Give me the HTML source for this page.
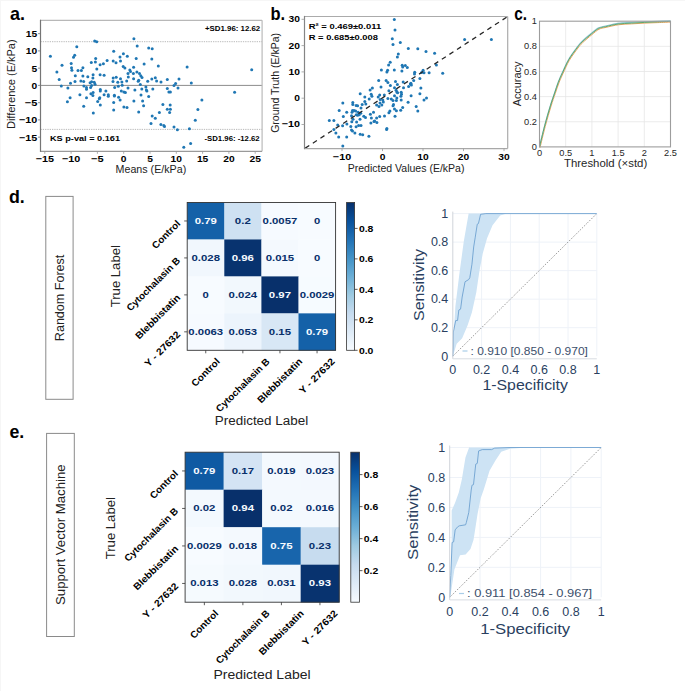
<!DOCTYPE html><html><head><meta charset="utf-8"><style>html,body{margin:0;padding:0;background:#fff;}svg{display:block}</style></head><body>
<svg width="685" height="691" viewBox="0 0 685 691" font-family='"Liberation Sans", sans-serif'>
<rect width="685" height="691" fill="#fff"/>
<line x1="0" y1="0.5" x2="685" y2="0.5" stroke="#f6f6f6" stroke-width="1"/><line x1="0.5" y1="0" x2="0.5" y2="691" stroke="#f6f6f6" stroke-width="1"/>
<line x1="40.5" y1="85.40" x2="262.1" y2="85.40" stroke="#8c8c8c" stroke-width="1"/>
<line x1="40.5" y1="41.70" x2="262.1" y2="41.70" stroke="#a8a8a8" stroke-width="0.8" stroke-dasharray="1.3,1.0"/>
<line x1="40.5" y1="129.40" x2="262.1" y2="129.40" stroke="#a8a8a8" stroke-width="0.8" stroke-dasharray="1.3,1.0"/>
<circle cx="50.4" cy="56.3" r="1.5" fill="#1f77b4"/>
<circle cx="76.8" cy="46.8" r="1.5" fill="#1f77b4"/>
<circle cx="74.7" cy="55.3" r="1.5" fill="#1f77b4"/>
<circle cx="73.5" cy="57.3" r="1.5" fill="#1f77b4"/>
<circle cx="62.0" cy="65.2" r="1.5" fill="#1f77b4"/>
<circle cx="71.2" cy="63.4" r="1.5" fill="#1f77b4"/>
<circle cx="71.5" cy="67.8" r="1.5" fill="#1f77b4"/>
<circle cx="71.9" cy="70.3" r="1.5" fill="#1f77b4"/>
<circle cx="78.0" cy="70.6" r="1.5" fill="#1f77b4"/>
<circle cx="81.4" cy="70.6" r="1.5" fill="#1f77b4"/>
<circle cx="82.9" cy="67.8" r="1.5" fill="#1f77b4"/>
<circle cx="56.9" cy="72.1" r="1.5" fill="#1f77b4"/>
<circle cx="75.3" cy="75.7" r="1.5" fill="#1f77b4"/>
<circle cx="82.9" cy="76.0" r="1.5" fill="#1f77b4"/>
<circle cx="87.8" cy="76.7" r="1.5" fill="#1f77b4"/>
<circle cx="93.1" cy="74.7" r="1.5" fill="#1f77b4"/>
<circle cx="92.9" cy="78.0" r="1.5" fill="#1f77b4"/>
<circle cx="100.1" cy="74.7" r="1.5" fill="#1f77b4"/>
<circle cx="104.1" cy="75.2" r="1.5" fill="#1f77b4"/>
<circle cx="91.3" cy="62.4" r="1.5" fill="#1f77b4"/>
<circle cx="95.4" cy="62.1" r="1.5" fill="#1f77b4"/>
<circle cx="95.7" cy="58.5" r="1.5" fill="#1f77b4"/>
<circle cx="100.1" cy="64.8" r="1.5" fill="#1f77b4"/>
<circle cx="103.4" cy="63.7" r="1.5" fill="#1f77b4"/>
<circle cx="107.1" cy="60.4" r="1.5" fill="#1f77b4"/>
<circle cx="96.8" cy="69.0" r="1.5" fill="#1f77b4"/>
<circle cx="94.7" cy="40.9" r="1.5" fill="#1f77b4"/>
<circle cx="96.7" cy="41.7" r="1.5" fill="#1f77b4"/>
<circle cx="59.2" cy="79.6" r="1.5" fill="#1f77b4"/>
<circle cx="70.5" cy="83.2" r="1.5" fill="#1f77b4"/>
<circle cx="75.0" cy="81.6" r="1.5" fill="#1f77b4"/>
<circle cx="80.9" cy="81.1" r="1.5" fill="#1f77b4"/>
<circle cx="83.7" cy="81.6" r="1.5" fill="#1f77b4"/>
<circle cx="90.1" cy="82.8" r="1.5" fill="#1f77b4"/>
<circle cx="91.6" cy="81.8" r="1.5" fill="#1f77b4"/>
<circle cx="94.2" cy="82.3" r="1.5" fill="#1f77b4"/>
<circle cx="95.0" cy="84.2" r="1.5" fill="#1f77b4"/>
<circle cx="91.6" cy="85.4" r="1.5" fill="#1f77b4"/>
<circle cx="90.6" cy="87.4" r="1.5" fill="#1f77b4"/>
<circle cx="86.5" cy="87.4" r="1.5" fill="#1f77b4"/>
<circle cx="83.9" cy="85.9" r="1.5" fill="#1f77b4"/>
<circle cx="61.3" cy="85.9" r="1.5" fill="#1f77b4"/>
<circle cx="67.9" cy="88.0" r="1.5" fill="#1f77b4"/>
<circle cx="100.3" cy="89.5" r="1.5" fill="#1f77b4"/>
<circle cx="133.9" cy="38.7" r="1.5" fill="#1f77b4"/>
<circle cx="137.2" cy="46.1" r="1.5" fill="#1f77b4"/>
<circle cx="148.7" cy="48.1" r="1.5" fill="#1f77b4"/>
<circle cx="152.2" cy="48.8" r="1.5" fill="#1f77b4"/>
<circle cx="113.7" cy="51.2" r="1.5" fill="#1f77b4"/>
<circle cx="123.4" cy="53.7" r="1.5" fill="#1f77b4"/>
<circle cx="120.0" cy="57.0" r="1.5" fill="#1f77b4"/>
<circle cx="127.3" cy="56.3" r="1.5" fill="#1f77b4"/>
<circle cx="136.2" cy="58.5" r="1.5" fill="#1f77b4"/>
<circle cx="151.8" cy="59.1" r="1.5" fill="#1f77b4"/>
<circle cx="113.2" cy="60.9" r="1.5" fill="#1f77b4"/>
<circle cx="116.0" cy="62.7" r="1.5" fill="#1f77b4"/>
<circle cx="120.5" cy="61.1" r="1.5" fill="#1f77b4"/>
<circle cx="144.1" cy="63.9" r="1.5" fill="#1f77b4"/>
<circle cx="158.3" cy="66.0" r="1.5" fill="#1f77b4"/>
<circle cx="123.2" cy="66.5" r="1.5" fill="#1f77b4"/>
<circle cx="124.9" cy="68.0" r="1.5" fill="#1f77b4"/>
<circle cx="133.6" cy="67.2" r="1.5" fill="#1f77b4"/>
<circle cx="129.8" cy="69.9" r="1.5" fill="#1f77b4"/>
<circle cx="130.5" cy="71.6" r="1.5" fill="#1f77b4"/>
<circle cx="136.9" cy="71.9" r="1.5" fill="#1f77b4"/>
<circle cx="139.5" cy="73.6" r="1.5" fill="#1f77b4"/>
<circle cx="128.0" cy="73.6" r="1.5" fill="#1f77b4"/>
<circle cx="133.4" cy="73.6" r="1.5" fill="#1f77b4"/>
<circle cx="140.8" cy="75.7" r="1.5" fill="#1f77b4"/>
<circle cx="142.0" cy="77.5" r="1.5" fill="#1f77b4"/>
<circle cx="128.3" cy="77.0" r="1.5" fill="#1f77b4"/>
<circle cx="113.2" cy="78.0" r="1.5" fill="#1f77b4"/>
<circle cx="116.2" cy="77.2" r="1.5" fill="#1f77b4"/>
<circle cx="120.5" cy="78.8" r="1.5" fill="#1f77b4"/>
<circle cx="133.6" cy="78.8" r="1.5" fill="#1f77b4"/>
<circle cx="138.7" cy="80.3" r="1.5" fill="#1f77b4"/>
<circle cx="138.2" cy="81.3" r="1.5" fill="#1f77b4"/>
<circle cx="126.7" cy="81.0" r="1.5" fill="#1f77b4"/>
<circle cx="113.0" cy="81.6" r="1.5" fill="#1f77b4"/>
<circle cx="117.8" cy="82.3" r="1.5" fill="#1f77b4"/>
<circle cx="121.9" cy="82.0" r="1.5" fill="#1f77b4"/>
<circle cx="122.2" cy="85.2" r="1.5" fill="#1f77b4"/>
<circle cx="140.3" cy="84.6" r="1.5" fill="#1f77b4"/>
<circle cx="147.7" cy="81.3" r="1.5" fill="#1f77b4"/>
<circle cx="151.8" cy="79.0" r="1.5" fill="#1f77b4"/>
<circle cx="155.3" cy="77.7" r="1.5" fill="#1f77b4"/>
<circle cx="156.6" cy="81.1" r="1.5" fill="#1f77b4"/>
<circle cx="161.0" cy="82.0" r="1.5" fill="#1f77b4"/>
<circle cx="167.3" cy="79.6" r="1.5" fill="#1f77b4"/>
<circle cx="114.7" cy="87.4" r="1.5" fill="#1f77b4"/>
<circle cx="118.3" cy="86.2" r="1.5" fill="#1f77b4"/>
<circle cx="128.0" cy="88.0" r="1.5" fill="#1f77b4"/>
<circle cx="145.9" cy="86.9" r="1.5" fill="#1f77b4"/>
<circle cx="141.8" cy="89.0" r="1.5" fill="#1f77b4"/>
<circle cx="152.8" cy="89.0" r="1.5" fill="#1f77b4"/>
<circle cx="167.3" cy="88.5" r="1.5" fill="#1f77b4"/>
<circle cx="174.0" cy="85.4" r="1.5" fill="#1f77b4"/>
<circle cx="187.1" cy="67.0" r="1.5" fill="#1f77b4"/>
<circle cx="179.0" cy="79.1" r="1.5" fill="#1f77b4"/>
<circle cx="175.6" cy="83.6" r="1.5" fill="#1f77b4"/>
<circle cx="191.3" cy="83.1" r="1.5" fill="#1f77b4"/>
<circle cx="178.0" cy="88.0" r="1.5" fill="#1f77b4"/>
<circle cx="251.7" cy="69.8" r="1.5" fill="#1f77b4"/>
<circle cx="86.5" cy="89.3" r="1.5" fill="#1f77b4"/>
<circle cx="100.3" cy="91.1" r="1.5" fill="#1f77b4"/>
<circle cx="105.9" cy="90.9" r="1.5" fill="#1f77b4"/>
<circle cx="108.3" cy="94.7" r="1.5" fill="#1f77b4"/>
<circle cx="108.3" cy="96.2" r="1.5" fill="#1f77b4"/>
<circle cx="79.9" cy="94.7" r="1.5" fill="#1f77b4"/>
<circle cx="70.1" cy="97.8" r="1.5" fill="#1f77b4"/>
<circle cx="67.4" cy="101.7" r="1.5" fill="#1f77b4"/>
<circle cx="86.5" cy="97.8" r="1.5" fill="#1f77b4"/>
<circle cx="90.9" cy="93.7" r="1.5" fill="#1f77b4"/>
<circle cx="93.1" cy="92.4" r="1.5" fill="#1f77b4"/>
<circle cx="92.9" cy="95.4" r="1.5" fill="#1f77b4"/>
<circle cx="104.1" cy="94.7" r="1.5" fill="#1f77b4"/>
<circle cx="99.8" cy="97.8" r="1.5" fill="#1f77b4"/>
<circle cx="99.3" cy="98.8" r="1.5" fill="#1f77b4"/>
<circle cx="97.7" cy="101.6" r="1.5" fill="#1f77b4"/>
<circle cx="100.3" cy="104.9" r="1.5" fill="#1f77b4"/>
<circle cx="83.7" cy="106.3" r="1.5" fill="#1f77b4"/>
<circle cx="93.3" cy="113.1" r="1.5" fill="#1f77b4"/>
<circle cx="114.4" cy="95.2" r="1.5" fill="#1f77b4"/>
<circle cx="114.4" cy="96.0" r="1.5" fill="#1f77b4"/>
<circle cx="121.3" cy="90.9" r="1.5" fill="#1f77b4"/>
<circle cx="123.9" cy="91.9" r="1.5" fill="#1f77b4"/>
<circle cx="125.4" cy="92.4" r="1.5" fill="#1f77b4"/>
<circle cx="134.9" cy="89.9" r="1.5" fill="#1f77b4"/>
<circle cx="146.4" cy="89.9" r="1.5" fill="#1f77b4"/>
<circle cx="146.9" cy="90.9" r="1.5" fill="#1f77b4"/>
<circle cx="168.9" cy="91.9" r="1.5" fill="#1f77b4"/>
<circle cx="170.4" cy="91.9" r="1.5" fill="#1f77b4"/>
<circle cx="118.6" cy="97.3" r="1.5" fill="#1f77b4"/>
<circle cx="120.1" cy="100.1" r="1.5" fill="#1f77b4"/>
<circle cx="113.7" cy="102.4" r="1.5" fill="#1f77b4"/>
<circle cx="113.7" cy="110.0" r="1.5" fill="#1f77b4"/>
<circle cx="123.9" cy="107.0" r="1.5" fill="#1f77b4"/>
<circle cx="127.0" cy="107.5" r="1.5" fill="#1f77b4"/>
<circle cx="133.9" cy="101.1" r="1.5" fill="#1f77b4"/>
<circle cx="141.0" cy="95.0" r="1.5" fill="#1f77b4"/>
<circle cx="142.6" cy="101.1" r="1.5" fill="#1f77b4"/>
<circle cx="143.6" cy="105.7" r="1.5" fill="#1f77b4"/>
<circle cx="148.7" cy="96.4" r="1.5" fill="#1f77b4"/>
<circle cx="138.7" cy="112.1" r="1.5" fill="#1f77b4"/>
<circle cx="162.9" cy="104.4" r="1.5" fill="#1f77b4"/>
<circle cx="170.2" cy="104.9" r="1.5" fill="#1f77b4"/>
<circle cx="167.3" cy="109.2" r="1.5" fill="#1f77b4"/>
<circle cx="170.4" cy="109.2" r="1.5" fill="#1f77b4"/>
<circle cx="169.6" cy="112.6" r="1.5" fill="#1f77b4"/>
<circle cx="159.4" cy="112.4" r="1.5" fill="#1f77b4"/>
<circle cx="152.2" cy="116.0" r="1.5" fill="#1f77b4"/>
<circle cx="155.3" cy="118.2" r="1.5" fill="#1f77b4"/>
<circle cx="151.0" cy="123.6" r="1.5" fill="#1f77b4"/>
<circle cx="160.9" cy="124.5" r="1.5" fill="#1f77b4"/>
<circle cx="163.8" cy="125.4" r="1.5" fill="#1f77b4"/>
<circle cx="164.5" cy="126.4" r="1.5" fill="#1f77b4"/>
<circle cx="174.0" cy="126.9" r="1.5" fill="#1f77b4"/>
<circle cx="234.6" cy="92.2" r="1.5" fill="#1f77b4"/>
<circle cx="201.9" cy="100.1" r="1.5" fill="#1f77b4"/>
<circle cx="197.9" cy="109.5" r="1.5" fill="#1f77b4"/>
<circle cx="195.3" cy="120.3" r="1.5" fill="#1f77b4"/>
<circle cx="177.4" cy="129.8" r="1.5" fill="#1f77b4"/>
<circle cx="189.4" cy="128.7" r="1.5" fill="#1f77b4"/>
<circle cx="190.6" cy="143.6" r="1.5" fill="#1f77b4"/>
<circle cx="183.8" cy="147.3" r="1.5" fill="#1f77b4"/>
<line x1="40.50" y1="20.30" x2="262.10" y2="20.30" stroke="#b8b8b8" stroke-width="1.2"/>
<line x1="262.10" y1="20.30" x2="262.10" y2="151.30" stroke="#bababa" stroke-width="1.2"/>
<line x1="40.50" y1="151.30" x2="262.10" y2="151.30" stroke="#9a9a9a" stroke-width="1.2"/>
<line x1="40.50" y1="19.70" x2="40.50" y2="151.90" stroke="#757575" stroke-width="1.2"/>
<line x1="38.0" y1="137.15" x2="40.5" y2="137.15" stroke="#777" stroke-width="0.8"/>
<text x="37.30" y="140.55" font-size="9.18" font-weight="bold" text-anchor="end" fill="#000" textLength="18.28" lengthAdjust="spacingAndGlyphs">−15</text>
<line x1="38.0" y1="119.90" x2="40.5" y2="119.90" stroke="#777" stroke-width="0.8"/>
<text x="37.30" y="123.30" font-size="9.18" font-weight="bold" text-anchor="end" fill="#000" textLength="18.28" lengthAdjust="spacingAndGlyphs">−10</text>
<line x1="38.0" y1="102.65" x2="40.5" y2="102.65" stroke="#777" stroke-width="0.8"/>
<text x="37.30" y="106.05" font-size="9.18" font-weight="bold" text-anchor="end" fill="#000" textLength="12.58" lengthAdjust="spacingAndGlyphs">−5</text>
<line x1="38.0" y1="85.40" x2="40.5" y2="85.40" stroke="#777" stroke-width="0.8"/>
<text x="37.30" y="88.80" font-size="9.18" font-weight="bold" text-anchor="end" fill="#000" textLength="5.71" lengthAdjust="spacingAndGlyphs">0</text>
<line x1="38.0" y1="68.15" x2="40.5" y2="68.15" stroke="#777" stroke-width="0.8"/>
<text x="37.30" y="71.55" font-size="9.18" font-weight="bold" text-anchor="end" fill="#000" textLength="5.71" lengthAdjust="spacingAndGlyphs">5</text>
<line x1="38.0" y1="50.90" x2="40.5" y2="50.90" stroke="#777" stroke-width="0.8"/>
<text x="37.30" y="54.30" font-size="9.18" font-weight="bold" text-anchor="end" fill="#000" textLength="11.41" lengthAdjust="spacingAndGlyphs">10</text>
<line x1="38.0" y1="33.65" x2="40.5" y2="33.65" stroke="#777" stroke-width="0.8"/>
<text x="37.30" y="37.05" font-size="9.18" font-weight="bold" text-anchor="end" fill="#000" textLength="11.41" lengthAdjust="spacingAndGlyphs">15</text>
<line x1="44.80" y1="151.3" x2="44.80" y2="153.8" stroke="#999" stroke-width="0.8"/>
<text x="44.80" y="161.60" font-size="9.18" font-weight="bold" text-anchor="middle" fill="#000" textLength="18.28" lengthAdjust="spacingAndGlyphs">−15</text>
<line x1="71.10" y1="151.3" x2="71.10" y2="153.8" stroke="#999" stroke-width="0.8"/>
<text x="71.10" y="161.60" font-size="9.18" font-weight="bold" text-anchor="middle" fill="#000" textLength="18.28" lengthAdjust="spacingAndGlyphs">−10</text>
<line x1="97.40" y1="151.3" x2="97.40" y2="153.8" stroke="#999" stroke-width="0.8"/>
<text x="97.40" y="161.60" font-size="9.18" font-weight="bold" text-anchor="middle" fill="#000" textLength="12.58" lengthAdjust="spacingAndGlyphs">−5</text>
<line x1="123.70" y1="151.3" x2="123.70" y2="153.8" stroke="#999" stroke-width="0.8"/>
<text x="123.70" y="161.60" font-size="9.18" font-weight="bold" text-anchor="middle" fill="#000" textLength="5.71" lengthAdjust="spacingAndGlyphs">0</text>
<line x1="150.00" y1="151.3" x2="150.00" y2="153.8" stroke="#999" stroke-width="0.8"/>
<text x="150.00" y="161.60" font-size="9.18" font-weight="bold" text-anchor="middle" fill="#000" textLength="5.71" lengthAdjust="spacingAndGlyphs">5</text>
<line x1="176.30" y1="151.3" x2="176.30" y2="153.8" stroke="#999" stroke-width="0.8"/>
<text x="176.30" y="161.60" font-size="9.18" font-weight="bold" text-anchor="middle" fill="#000" textLength="11.41" lengthAdjust="spacingAndGlyphs">10</text>
<line x1="202.60" y1="151.3" x2="202.60" y2="153.8" stroke="#999" stroke-width="0.8"/>
<text x="202.60" y="161.60" font-size="9.18" font-weight="bold" text-anchor="middle" fill="#000" textLength="11.41" lengthAdjust="spacingAndGlyphs">15</text>
<line x1="228.90" y1="151.3" x2="228.90" y2="153.8" stroke="#999" stroke-width="0.8"/>
<text x="228.90" y="161.60" font-size="9.18" font-weight="bold" text-anchor="middle" fill="#000" textLength="11.41" lengthAdjust="spacingAndGlyphs">20</text>
<line x1="255.20" y1="151.3" x2="255.20" y2="153.8" stroke="#999" stroke-width="0.8"/>
<text x="255.20" y="161.60" font-size="9.18" font-weight="bold" text-anchor="middle" fill="#000" textLength="11.41" lengthAdjust="spacingAndGlyphs">25</text>
<text x="150.90" y="172.60" font-size="10.50" font-weight="normal" text-anchor="middle" fill="#222" textLength="70.63" lengthAdjust="spacingAndGlyphs">Means (E/kPa)</text>
<text x="0.00" y="0.00" transform="translate(14.60,84.20) rotate(-90)" font-size="10.50" font-weight="normal" text-anchor="middle" fill="#222" textLength="89.72" lengthAdjust="spacingAndGlyphs">Difference (E/kPa)</text>
<text x="205.00" y="30.60" font-size="6.62" font-weight="bold" text-anchor="start" fill="#000" textLength="55.23" lengthAdjust="spacingAndGlyphs">+SD1.96: 12.62</text>
<text x="204.50" y="141.10" font-size="6.62" font-weight="bold" text-anchor="start" fill="#000" textLength="55.18" lengthAdjust="spacingAndGlyphs">-SD1.96: -12.62</text>
<text x="50.00" y="141.10" font-size="7.88" font-weight="bold" text-anchor="start" fill="#000" textLength="70.06" lengthAdjust="spacingAndGlyphs">KS p-val = 0.161</text>
<text x="10.00" y="20.00" font-size="19.00" font-weight="bold" text-anchor="start" fill="#000" textLength="15.00" lengthAdjust="spacingAndGlyphs">a.</text>
<circle cx="394.3" cy="19.6" r="1.5" fill="#1f77b4"/>
<circle cx="395.0" cy="30.1" r="1.5" fill="#1f77b4"/>
<circle cx="392.3" cy="38.8" r="1.5" fill="#1f77b4"/>
<circle cx="393.0" cy="44.4" r="1.5" fill="#1f77b4"/>
<circle cx="400.3" cy="42.4" r="1.5" fill="#1f77b4"/>
<circle cx="408.3" cy="48.5" r="1.5" fill="#1f77b4"/>
<circle cx="417.8" cy="48.7" r="1.5" fill="#1f77b4"/>
<circle cx="426.0" cy="51.6" r="1.5" fill="#1f77b4"/>
<circle cx="434.6" cy="53.3" r="1.5" fill="#1f77b4"/>
<circle cx="398.3" cy="54.1" r="1.5" fill="#1f77b4"/>
<circle cx="397.4" cy="56.9" r="1.5" fill="#1f77b4"/>
<circle cx="390.2" cy="62.2" r="1.5" fill="#1f77b4"/>
<circle cx="388.6" cy="64.9" r="1.5" fill="#1f77b4"/>
<circle cx="381.4" cy="70.0" r="1.5" fill="#1f77b4"/>
<circle cx="387.6" cy="70.2" r="1.5" fill="#1f77b4"/>
<circle cx="386.9" cy="72.0" r="1.5" fill="#1f77b4"/>
<circle cx="394.3" cy="70.0" r="1.5" fill="#1f77b4"/>
<circle cx="402.2" cy="65.3" r="1.5" fill="#1f77b4"/>
<circle cx="402.7" cy="67.1" r="1.5" fill="#1f77b4"/>
<circle cx="405.3" cy="65.6" r="1.5" fill="#1f77b4"/>
<circle cx="407.3" cy="67.6" r="1.5" fill="#1f77b4"/>
<circle cx="401.9" cy="71.0" r="1.5" fill="#1f77b4"/>
<circle cx="414.7" cy="72.2" r="1.5" fill="#1f77b4"/>
<circle cx="414.5" cy="74.1" r="1.5" fill="#1f77b4"/>
<circle cx="423.1" cy="70.2" r="1.5" fill="#1f77b4"/>
<circle cx="421.6" cy="72.4" r="1.5" fill="#1f77b4"/>
<circle cx="424.0" cy="72.7" r="1.5" fill="#1f77b4"/>
<circle cx="429.1" cy="72.7" r="1.5" fill="#1f77b4"/>
<circle cx="436.4" cy="65.1" r="1.5" fill="#1f77b4"/>
<circle cx="419.9" cy="78.6" r="1.5" fill="#1f77b4"/>
<circle cx="413.7" cy="80.6" r="1.5" fill="#1f77b4"/>
<circle cx="410.9" cy="83.3" r="1.5" fill="#1f77b4"/>
<circle cx="403.2" cy="81.9" r="1.5" fill="#1f77b4"/>
<circle cx="395.5" cy="81.4" r="1.5" fill="#1f77b4"/>
<circle cx="397.4" cy="84.5" r="1.5" fill="#1f77b4"/>
<circle cx="386.1" cy="80.4" r="1.5" fill="#1f77b4"/>
<circle cx="387.9" cy="82.6" r="1.5" fill="#1f77b4"/>
<circle cx="378.7" cy="80.4" r="1.5" fill="#1f77b4"/>
<circle cx="464.6" cy="39.5" r="1.5" fill="#1f77b4"/>
<circle cx="491.4" cy="39.5" r="1.5" fill="#1f77b4"/>
<circle cx="442.7" cy="73.2" r="1.5" fill="#1f77b4"/>
<circle cx="372.4" cy="88.0" r="1.5" fill="#1f77b4"/>
<circle cx="370.1" cy="89.9" r="1.5" fill="#1f77b4"/>
<circle cx="360.2" cy="93.8" r="1.5" fill="#1f77b4"/>
<circle cx="364.8" cy="96.9" r="1.5" fill="#1f77b4"/>
<circle cx="371.2" cy="94.3" r="1.5" fill="#1f77b4"/>
<circle cx="371.9" cy="96.3" r="1.5" fill="#1f77b4"/>
<circle cx="369.2" cy="98.9" r="1.5" fill="#1f77b4"/>
<circle cx="342.8" cy="103.0" r="1.5" fill="#1f77b4"/>
<circle cx="352.8" cy="102.5" r="1.5" fill="#1f77b4"/>
<circle cx="352.8" cy="104.5" r="1.5" fill="#1f77b4"/>
<circle cx="356.1" cy="105.5" r="1.5" fill="#1f77b4"/>
<circle cx="357.6" cy="105.8" r="1.5" fill="#1f77b4"/>
<circle cx="364.8" cy="101.5" r="1.5" fill="#1f77b4"/>
<circle cx="365.8" cy="104.0" r="1.5" fill="#1f77b4"/>
<circle cx="362.2" cy="104.5" r="1.5" fill="#1f77b4"/>
<circle cx="361.0" cy="108.1" r="1.5" fill="#1f77b4"/>
<circle cx="339.2" cy="110.5" r="1.5" fill="#1f77b4"/>
<circle cx="346.7" cy="112.2" r="1.5" fill="#1f77b4"/>
<circle cx="352.5" cy="110.6" r="1.5" fill="#1f77b4"/>
<circle cx="354.0" cy="110.5" r="1.5" fill="#1f77b4"/>
<circle cx="355.6" cy="110.9" r="1.5" fill="#1f77b4"/>
<circle cx="352.0" cy="112.2" r="1.5" fill="#1f77b4"/>
<circle cx="358.1" cy="112.2" r="1.5" fill="#1f77b4"/>
<circle cx="360.7" cy="113.2" r="1.5" fill="#1f77b4"/>
<circle cx="356.3" cy="114.7" r="1.5" fill="#1f77b4"/>
<circle cx="357.6" cy="115.3" r="1.5" fill="#1f77b4"/>
<circle cx="359.2" cy="114.7" r="1.5" fill="#1f77b4"/>
<circle cx="343.3" cy="116.6" r="1.5" fill="#1f77b4"/>
<circle cx="351.5" cy="115.8" r="1.5" fill="#1f77b4"/>
<circle cx="363.8" cy="116.3" r="1.5" fill="#1f77b4"/>
<circle cx="365.5" cy="117.6" r="1.5" fill="#1f77b4"/>
<circle cx="370.4" cy="114.2" r="1.5" fill="#1f77b4"/>
<circle cx="373.5" cy="112.2" r="1.5" fill="#1f77b4"/>
<circle cx="371.4" cy="118.0" r="1.5" fill="#1f77b4"/>
<circle cx="374.0" cy="121.4" r="1.5" fill="#1f77b4"/>
<circle cx="329.3" cy="120.4" r="1.5" fill="#1f77b4"/>
<circle cx="333.9" cy="120.6" r="1.5" fill="#1f77b4"/>
<circle cx="353.0" cy="119.3" r="1.5" fill="#1f77b4"/>
<circle cx="360.0" cy="119.3" r="1.5" fill="#1f77b4"/>
<circle cx="351.8" cy="121.7" r="1.5" fill="#1f77b4"/>
<circle cx="356.6" cy="122.1" r="1.5" fill="#1f77b4"/>
<circle cx="337.7" cy="125.0" r="1.5" fill="#1f77b4"/>
<circle cx="342.6" cy="125.8" r="1.5" fill="#1f77b4"/>
<circle cx="346.9" cy="124.1" r="1.5" fill="#1f77b4"/>
<circle cx="350.8" cy="126.5" r="1.5" fill="#1f77b4"/>
<circle cx="356.1" cy="126.8" r="1.5" fill="#1f77b4"/>
<circle cx="358.6" cy="125.5" r="1.5" fill="#1f77b4"/>
<circle cx="361.0" cy="125.5" r="1.5" fill="#1f77b4"/>
<circle cx="370.9" cy="123.1" r="1.5" fill="#1f77b4"/>
<circle cx="333.9" cy="129.6" r="1.5" fill="#1f77b4"/>
<circle cx="351.5" cy="130.1" r="1.5" fill="#1f77b4"/>
<circle cx="352.5" cy="131.1" r="1.5" fill="#1f77b4"/>
<circle cx="354.9" cy="132.9" r="1.5" fill="#1f77b4"/>
<circle cx="335.9" cy="132.9" r="1.5" fill="#1f77b4"/>
<circle cx="360.2" cy="134.2" r="1.5" fill="#1f77b4"/>
<circle cx="362.7" cy="134.7" r="1.5" fill="#1f77b4"/>
<circle cx="368.9" cy="136.2" r="1.5" fill="#1f77b4"/>
<circle cx="338.7" cy="136.9" r="1.5" fill="#1f77b4"/>
<circle cx="346.7" cy="136.9" r="1.5" fill="#1f77b4"/>
<circle cx="342.8" cy="146.1" r="1.5" fill="#1f77b4"/>
<circle cx="381.0" cy="86.9" r="1.5" fill="#1f77b4"/>
<circle cx="390.4" cy="85.6" r="1.5" fill="#1f77b4"/>
<circle cx="394.5" cy="87.7" r="1.5" fill="#1f77b4"/>
<circle cx="396.1" cy="90.2" r="1.5" fill="#1f77b4"/>
<circle cx="396.8" cy="92.1" r="1.5" fill="#1f77b4"/>
<circle cx="397.6" cy="92.8" r="1.5" fill="#1f77b4"/>
<circle cx="388.9" cy="90.7" r="1.5" fill="#1f77b4"/>
<circle cx="403.5" cy="87.7" r="1.5" fill="#1f77b4"/>
<circle cx="408.6" cy="86.6" r="1.5" fill="#1f77b4"/>
<circle cx="410.4" cy="84.1" r="1.5" fill="#1f77b4"/>
<circle cx="411.4" cy="85.1" r="1.5" fill="#1f77b4"/>
<circle cx="420.9" cy="88.0" r="1.5" fill="#1f77b4"/>
<circle cx="419.9" cy="93.8" r="1.5" fill="#1f77b4"/>
<circle cx="411.1" cy="95.8" r="1.5" fill="#1f77b4"/>
<circle cx="401.2" cy="92.3" r="1.5" fill="#1f77b4"/>
<circle cx="401.5" cy="94.3" r="1.5" fill="#1f77b4"/>
<circle cx="400.9" cy="96.3" r="1.5" fill="#1f77b4"/>
<circle cx="379.7" cy="95.1" r="1.5" fill="#1f77b4"/>
<circle cx="378.2" cy="96.9" r="1.5" fill="#1f77b4"/>
<circle cx="384.3" cy="95.1" r="1.5" fill="#1f77b4"/>
<circle cx="394.5" cy="95.8" r="1.5" fill="#1f77b4"/>
<circle cx="387.9" cy="98.4" r="1.5" fill="#1f77b4"/>
<circle cx="391.3" cy="98.9" r="1.5" fill="#1f77b4"/>
<circle cx="393.0" cy="100.4" r="1.5" fill="#1f77b4"/>
<circle cx="396.8" cy="97.9" r="1.5" fill="#1f77b4"/>
<circle cx="396.4" cy="100.4" r="1.5" fill="#1f77b4"/>
<circle cx="401.2" cy="99.9" r="1.5" fill="#1f77b4"/>
<circle cx="408.1" cy="102.2" r="1.5" fill="#1f77b4"/>
<circle cx="426.5" cy="97.9" r="1.5" fill="#1f77b4"/>
<circle cx="424.0" cy="99.9" r="1.5" fill="#1f77b4"/>
<circle cx="380.2" cy="99.4" r="1.5" fill="#1f77b4"/>
<circle cx="382.8" cy="99.9" r="1.5" fill="#1f77b4"/>
<circle cx="383.3" cy="102.0" r="1.5" fill="#1f77b4"/>
<circle cx="380.0" cy="103.0" r="1.5" fill="#1f77b4"/>
<circle cx="376.6" cy="105.0" r="1.5" fill="#1f77b4"/>
<circle cx="379.0" cy="106.4" r="1.5" fill="#1f77b4"/>
<circle cx="381.8" cy="105.0" r="1.5" fill="#1f77b4"/>
<circle cx="393.5" cy="104.5" r="1.5" fill="#1f77b4"/>
<circle cx="393.0" cy="105.8" r="1.5" fill="#1f77b4"/>
<circle cx="416.2" cy="106.4" r="1.5" fill="#1f77b4"/>
<circle cx="417.8" cy="110.9" r="1.5" fill="#1f77b4"/>
<circle cx="402.7" cy="107.4" r="1.5" fill="#1f77b4"/>
<circle cx="400.7" cy="110.3" r="1.5" fill="#1f77b4"/>
<circle cx="394.5" cy="109.1" r="1.5" fill="#1f77b4"/>
<circle cx="396.4" cy="110.7" r="1.5" fill="#1f77b4"/>
<circle cx="389.9" cy="110.9" r="1.5" fill="#1f77b4"/>
<circle cx="388.9" cy="112.7" r="1.5" fill="#1f77b4"/>
<circle cx="384.5" cy="116.0" r="1.5" fill="#1f77b4"/>
<circle cx="379.7" cy="116.6" r="1.5" fill="#1f77b4"/>
<circle cx="376.6" cy="118.0" r="1.5" fill="#1f77b4"/>
<circle cx="395.0" cy="116.3" r="1.5" fill="#1f77b4"/>
<circle cx="374.6" cy="121.1" r="1.5" fill="#1f77b4"/>
<circle cx="376.9" cy="122.4" r="1.5" fill="#1f77b4"/>
<circle cx="386.9" cy="128.5" r="1.5" fill="#1f77b4"/>
<circle cx="386.6" cy="129.6" r="1.5" fill="#1f77b4"/>
<line x1="304.5" y1="148.6" x2="507.7" y2="16.5" stroke="#262626" stroke-width="1.3" stroke-dasharray="4.8,4.25" stroke-dashoffset="8.15"/>
<line x1="304.50" y1="16.50" x2="507.70" y2="16.50" stroke="#ababab" stroke-width="1.2"/>
<line x1="507.70" y1="16.50" x2="507.70" y2="148.60" stroke="#ababab" stroke-width="1.2"/>
<line x1="304.50" y1="148.60" x2="507.70" y2="148.60" stroke="#a8a8a8" stroke-width="1.2"/>
<line x1="304.50" y1="15.90" x2="304.50" y2="149.20" stroke="#858585" stroke-width="1.2"/>
<line x1="301.5" y1="124.50" x2="304.5" y2="124.50" stroke="#999" stroke-width="0.8"/>
<text x="300.00" y="127.40" font-size="9.18" font-weight="bold" text-anchor="end" fill="#000" textLength="18.28" lengthAdjust="spacingAndGlyphs">−10</text>
<line x1="301.5" y1="98.20" x2="304.5" y2="98.20" stroke="#999" stroke-width="0.8"/>
<text x="300.00" y="101.10" font-size="9.18" font-weight="bold" text-anchor="end" fill="#000" textLength="5.71" lengthAdjust="spacingAndGlyphs">0</text>
<line x1="301.5" y1="71.90" x2="304.5" y2="71.90" stroke="#999" stroke-width="0.8"/>
<text x="300.00" y="74.80" font-size="9.18" font-weight="bold" text-anchor="end" fill="#000" textLength="11.41" lengthAdjust="spacingAndGlyphs">10</text>
<line x1="301.5" y1="45.60" x2="304.5" y2="45.60" stroke="#999" stroke-width="0.8"/>
<text x="300.00" y="48.50" font-size="9.18" font-weight="bold" text-anchor="end" fill="#000" textLength="11.41" lengthAdjust="spacingAndGlyphs">20</text>
<line x1="301.5" y1="19.30" x2="304.5" y2="19.30" stroke="#999" stroke-width="0.8"/>
<text x="300.00" y="22.20" font-size="9.18" font-weight="bold" text-anchor="end" fill="#000" textLength="11.41" lengthAdjust="spacingAndGlyphs">30</text>
<line x1="342.00" y1="148.6" x2="342.00" y2="151.1" stroke="#999" stroke-width="0.8"/>
<text x="342.00" y="160.30" font-size="9.18" font-weight="bold" text-anchor="middle" fill="#000" textLength="18.28" lengthAdjust="spacingAndGlyphs">−10</text>
<line x1="382.50" y1="148.6" x2="382.50" y2="151.1" stroke="#999" stroke-width="0.8"/>
<text x="382.50" y="160.30" font-size="9.18" font-weight="bold" text-anchor="middle" fill="#000" textLength="5.71" lengthAdjust="spacingAndGlyphs">0</text>
<line x1="423.00" y1="148.6" x2="423.00" y2="151.1" stroke="#999" stroke-width="0.8"/>
<text x="423.00" y="160.30" font-size="9.18" font-weight="bold" text-anchor="middle" fill="#000" textLength="11.41" lengthAdjust="spacingAndGlyphs">10</text>
<line x1="463.50" y1="148.6" x2="463.50" y2="151.1" stroke="#999" stroke-width="0.8"/>
<text x="463.50" y="160.30" font-size="9.18" font-weight="bold" text-anchor="middle" fill="#000" textLength="11.41" lengthAdjust="spacingAndGlyphs">20</text>
<line x1="504.00" y1="148.6" x2="504.00" y2="151.1" stroke="#999" stroke-width="0.8"/>
<text x="504.00" y="160.30" font-size="9.18" font-weight="bold" text-anchor="middle" fill="#000" textLength="11.41" lengthAdjust="spacingAndGlyphs">30</text>
<text x="406.10" y="171.60" font-size="10.13" font-weight="normal" text-anchor="middle" fill="#222" textLength="116.73" lengthAdjust="spacingAndGlyphs">Predicted Values (E/kPa)</text>
<text x="0.00" y="0.00" transform="translate(278.60,82.90) rotate(-90)" font-size="10.13" font-weight="normal" text-anchor="middle" fill="#222" textLength="99.86" lengthAdjust="spacingAndGlyphs">Ground Truth (E/kPa)</text>
<text x="308.80" y="29.30" font-size="7.67" font-weight="bold" text-anchor="start" fill="#000" textLength="72.32" lengthAdjust="spacingAndGlyphs">R² = 0.469±0.011</text>
<text x="308.80" y="39.50" font-size="7.67" font-weight="bold" text-anchor="start" fill="#000" textLength="69.12" lengthAdjust="spacingAndGlyphs">R = 0.685±0.008</text>
<text x="270.50" y="19.70" font-size="19.00" font-weight="bold" text-anchor="start" fill="#000" textLength="14.60" lengthAdjust="spacingAndGlyphs">b.</text>
<line x1="565.70" y1="21.2" x2="565.70" y2="146.9" stroke="#e6e6e6" stroke-width="0.8"/>
<line x1="591.90" y1="21.2" x2="591.90" y2="146.9" stroke="#e6e6e6" stroke-width="0.8"/>
<line x1="618.10" y1="21.2" x2="618.10" y2="146.9" stroke="#e6e6e6" stroke-width="0.8"/>
<line x1="644.30" y1="21.2" x2="644.30" y2="146.9" stroke="#e6e6e6" stroke-width="0.8"/>
<line x1="539.5" y1="121.76" x2="670.5" y2="121.76" stroke="#e6e6e6" stroke-width="0.8"/>
<line x1="539.5" y1="96.62" x2="670.5" y2="96.62" stroke="#e6e6e6" stroke-width="0.8"/>
<line x1="539.5" y1="71.48" x2="670.5" y2="71.48" stroke="#e6e6e6" stroke-width="0.8"/>
<line x1="539.5" y1="46.34" x2="670.5" y2="46.34" stroke="#e6e6e6" stroke-width="0.8"/>
<path d="M540.00,147.80 C540.87,144.24 543.41,133.34 545.24,126.43 C547.07,119.52 549.34,111.77 551.00,106.32 C552.66,100.87 553.89,97.62 555.20,93.75 C556.51,89.87 557.55,86.46 558.86,83.06 C560.17,79.67 561.31,77.18 563.06,73.39 C564.80,69.59 566.86,64.54 569.34,60.31 C571.83,56.08 575.81,50.91 577.99,47.99 C580.17,45.08 580.13,45.06 582.44,42.84 C584.76,40.62 589.12,36.93 591.88,34.67 C594.64,32.41 596.64,30.48 599.00,29.26 C601.36,28.05 602.76,28.13 606.02,27.38 C609.29,26.63 614.32,25.33 618.60,24.74 C622.88,24.15 627.33,24.13 631.70,23.86 C636.07,23.59 640.43,23.32 644.80,23.11 C649.17,22.90 653.53,22.77 657.90,22.60 C662.27,22.44 668.82,22.18 671.00,22.10" fill="none" stroke="#e9a561" stroke-width="1"/>
<path d="M539.50,146.40 C540.37,142.84 542.91,131.94 544.74,125.03 C546.57,118.12 548.84,110.37 550.50,104.92 C552.16,99.47 553.39,96.22 554.70,92.35 C556.01,88.47 557.05,85.06 558.36,81.66 C559.67,78.27 560.81,75.78 562.56,71.99 C564.30,68.19 566.36,63.14 568.84,58.91 C571.33,54.68 575.31,49.51 577.49,46.59 C579.67,43.68 579.63,43.66 581.94,41.44 C584.26,39.22 588.62,35.53 591.38,33.27 C594.14,31.01 596.14,29.08 598.50,27.86 C600.86,26.65 602.26,26.73 605.52,25.98 C608.79,25.23 613.82,23.93 618.10,23.34 C622.38,22.75 626.83,22.73 631.20,22.46 C635.57,22.19 639.93,21.92 644.30,21.71 C648.67,21.50 653.03,21.37 657.40,21.20 C661.77,21.04 668.32,20.78 670.50,20.70" fill="none" stroke="#8cc3cf" stroke-width="1.1"/>
<path d="M539.50,147.10 C540.37,143.54 542.91,132.64 544.74,125.73 C546.57,118.82 548.84,111.07 550.50,105.62 C552.16,100.17 553.39,96.92 554.70,93.05 C556.01,89.17 557.05,85.76 558.36,82.36 C559.67,78.97 560.81,76.48 562.56,72.69 C564.30,68.89 566.36,63.84 568.84,59.61 C571.33,55.38 575.31,50.21 577.49,47.29 C579.67,44.38 579.63,44.36 581.94,42.14 C584.26,39.92 588.62,36.23 591.38,33.97 C594.14,31.71 596.14,29.78 598.50,28.56 C600.86,27.35 602.26,27.43 605.52,26.68 C608.79,25.93 613.82,24.63 618.10,24.04 C622.38,23.45 626.83,23.43 631.20,23.16 C635.57,22.89 639.93,22.62 644.30,22.41 C648.67,22.20 653.03,22.07 657.40,21.90 C661.77,21.74 668.32,21.48 670.50,21.40" fill="none" stroke="#55a060" stroke-width="0.9"/>
<rect x="539.5" y="21.2" width="131.0" height="125.70" fill="none" stroke="#9d9d9d" stroke-width="1.1"/>
<text x="537.00" y="150.00" font-size="8.51" font-weight="normal" text-anchor="end" fill="#262626" textLength="5.15" lengthAdjust="spacingAndGlyphs">0</text>
<text x="537.00" y="124.86" font-size="8.51" font-weight="normal" text-anchor="end" fill="#262626" textLength="12.88" lengthAdjust="spacingAndGlyphs">0.2</text>
<text x="537.00" y="99.72" font-size="8.51" font-weight="normal" text-anchor="end" fill="#262626" textLength="12.88" lengthAdjust="spacingAndGlyphs">0.4</text>
<text x="537.00" y="74.58" font-size="8.51" font-weight="normal" text-anchor="end" fill="#262626" textLength="12.88" lengthAdjust="spacingAndGlyphs">0.6</text>
<text x="537.00" y="49.44" font-size="8.51" font-weight="normal" text-anchor="end" fill="#262626" textLength="12.88" lengthAdjust="spacingAndGlyphs">0.8</text>
<text x="537.00" y="24.30" font-size="8.51" font-weight="normal" text-anchor="end" fill="#262626" textLength="5.15" lengthAdjust="spacingAndGlyphs">1</text>
<text x="539.50" y="156.20" font-size="8.51" font-weight="normal" text-anchor="middle" fill="#262626" textLength="5.15" lengthAdjust="spacingAndGlyphs">0</text>
<text x="565.70" y="156.20" font-size="8.51" font-weight="normal" text-anchor="middle" fill="#262626" textLength="12.88" lengthAdjust="spacingAndGlyphs">0.5</text>
<text x="591.90" y="156.20" font-size="8.51" font-weight="normal" text-anchor="middle" fill="#262626" textLength="5.15" lengthAdjust="spacingAndGlyphs">1</text>
<text x="618.10" y="156.20" font-size="8.51" font-weight="normal" text-anchor="middle" fill="#262626" textLength="12.88" lengthAdjust="spacingAndGlyphs">1.5</text>
<text x="644.30" y="156.20" font-size="8.51" font-weight="normal" text-anchor="middle" fill="#262626" textLength="5.15" lengthAdjust="spacingAndGlyphs">2</text>
<text x="670.50" y="156.20" font-size="8.51" font-weight="normal" text-anchor="middle" fill="#262626" textLength="12.88" lengthAdjust="spacingAndGlyphs">2.5</text>
<text x="605.60" y="167.30" font-size="10.40" font-weight="normal" text-anchor="middle" fill="#262626" textLength="83.28" lengthAdjust="spacingAndGlyphs">Threshold (×std)</text>
<text x="0.00" y="0.00" transform="translate(521.30,84.00) rotate(-90)" font-size="10.29" font-weight="normal" text-anchor="middle" fill="#262626" textLength="44.74" lengthAdjust="spacingAndGlyphs">Accuracy</text>
<text x="514.20" y="20.10" font-size="19.00" font-weight="bold" text-anchor="start" fill="#000" textLength="12.80" lengthAdjust="spacingAndGlyphs">c.</text>
<text x="9.00" y="203.00" font-size="19.00" font-weight="bold" text-anchor="start" fill="#000" textLength="15.80" lengthAdjust="spacingAndGlyphs">d.</text>
<rect x="45.8" y="196.4" width="27.3" height="202.9" fill="none" stroke="#8a8a8a" stroke-width="1"/>
<text x="0.00" y="0.00" transform="translate(64.40,297.90) rotate(-90)" font-size="13.00" font-weight="normal" text-anchor="middle" fill="#222" textLength="86.50" lengthAdjust="spacingAndGlyphs">Random Forest</text>
<rect x="187.20" y="202.50" width="37.40" height="37.25" fill="#1461a8"/>
<rect x="224.30" y="202.50" width="37.40" height="37.25" fill="#cee1f2"/>
<rect x="261.40" y="202.50" width="37.40" height="37.25" fill="#f6faff"/>
<rect x="298.50" y="202.50" width="37.40" height="37.25" fill="#f7fbff"/>
<rect x="187.20" y="239.45" width="37.40" height="37.25" fill="#f1f7fd"/>
<rect x="224.30" y="239.45" width="37.40" height="37.25" fill="#08336f"/>
<rect x="261.40" y="239.45" width="37.40" height="37.25" fill="#f4f9fe"/>
<rect x="298.50" y="239.45" width="37.40" height="37.25" fill="#f7fbff"/>
<rect x="187.20" y="276.40" width="37.40" height="37.25" fill="#f7fbff"/>
<rect x="224.30" y="276.40" width="37.40" height="37.25" fill="#f2f8fd"/>
<rect x="261.40" y="276.40" width="37.40" height="37.25" fill="#08306b"/>
<rect x="298.50" y="276.40" width="37.40" height="37.25" fill="#f6fbff"/>
<rect x="187.20" y="313.35" width="37.40" height="37.25" fill="#f6faff"/>
<rect x="224.30" y="313.35" width="37.40" height="37.25" fill="#ecf4fc"/>
<rect x="261.40" y="313.35" width="37.40" height="37.25" fill="#d8e7f5"/>
<rect x="298.50" y="313.35" width="37.40" height="37.25" fill="#1461a8"/>
<text x="205.75" y="223.88" font-size="9.90" font-weight="bold" text-anchor="middle" fill="#f7fbff" textLength="22.21" lengthAdjust="spacingAndGlyphs">0.79</text>
<text x="242.85" y="223.88" font-size="9.90" font-weight="bold" text-anchor="middle" fill="#08306b" textLength="15.94" lengthAdjust="spacingAndGlyphs">0.2</text>
<text x="279.95" y="223.88" font-size="9.90" font-weight="bold" text-anchor="middle" fill="#08306b" textLength="34.73" lengthAdjust="spacingAndGlyphs">0.0057</text>
<text x="317.05" y="223.88" font-size="9.90" font-weight="bold" text-anchor="middle" fill="#08306b" textLength="6.26" lengthAdjust="spacingAndGlyphs">0</text>
<text x="205.75" y="260.82" font-size="9.90" font-weight="bold" text-anchor="middle" fill="#08306b" textLength="28.47" lengthAdjust="spacingAndGlyphs">0.028</text>
<text x="242.85" y="260.82" font-size="9.90" font-weight="bold" text-anchor="middle" fill="#f7fbff" textLength="22.21" lengthAdjust="spacingAndGlyphs">0.96</text>
<text x="279.95" y="260.82" font-size="9.90" font-weight="bold" text-anchor="middle" fill="#08306b" textLength="28.47" lengthAdjust="spacingAndGlyphs">0.015</text>
<text x="317.05" y="260.82" font-size="9.90" font-weight="bold" text-anchor="middle" fill="#08306b" textLength="6.26" lengthAdjust="spacingAndGlyphs">0</text>
<text x="205.75" y="297.77" font-size="9.90" font-weight="bold" text-anchor="middle" fill="#08306b" textLength="6.26" lengthAdjust="spacingAndGlyphs">0</text>
<text x="242.85" y="297.77" font-size="9.90" font-weight="bold" text-anchor="middle" fill="#08306b" textLength="28.47" lengthAdjust="spacingAndGlyphs">0.024</text>
<text x="279.95" y="297.77" font-size="9.90" font-weight="bold" text-anchor="middle" fill="#f7fbff" textLength="22.21" lengthAdjust="spacingAndGlyphs">0.97</text>
<text x="317.05" y="297.77" font-size="9.90" font-weight="bold" text-anchor="middle" fill="#08306b" textLength="34.73" lengthAdjust="spacingAndGlyphs">0.0029</text>
<text x="205.75" y="334.73" font-size="9.90" font-weight="bold" text-anchor="middle" fill="#08306b" textLength="34.73" lengthAdjust="spacingAndGlyphs">0.0063</text>
<text x="242.85" y="334.73" font-size="9.90" font-weight="bold" text-anchor="middle" fill="#08306b" textLength="28.47" lengthAdjust="spacingAndGlyphs">0.053</text>
<text x="279.95" y="334.73" font-size="9.90" font-weight="bold" text-anchor="middle" fill="#08306b" textLength="22.21" lengthAdjust="spacingAndGlyphs">0.15</text>
<text x="317.05" y="334.73" font-size="9.90" font-weight="bold" text-anchor="middle" fill="#f7fbff" textLength="22.21" lengthAdjust="spacingAndGlyphs">0.79</text>
<rect x="187.2" y="202.5" width="148.40" height="147.80" fill="none" stroke="#333" stroke-width="0.9"/>
<line x1="184.2" y1="220.97" x2="187.2" y2="220.97" stroke="#333" stroke-width="0.8"/>
<line x1="205.75" y1="350.3" x2="205.75" y2="353.3" stroke="#333" stroke-width="0.8"/>
<line x1="184.2" y1="257.93" x2="187.2" y2="257.93" stroke="#333" stroke-width="0.8"/>
<line x1="242.85" y1="350.3" x2="242.85" y2="353.3" stroke="#333" stroke-width="0.8"/>
<line x1="184.2" y1="294.88" x2="187.2" y2="294.88" stroke="#333" stroke-width="0.8"/>
<line x1="279.95" y1="350.3" x2="279.95" y2="353.3" stroke="#333" stroke-width="0.8"/>
<line x1="184.2" y1="331.83" x2="187.2" y2="331.83" stroke="#333" stroke-width="0.8"/>
<line x1="317.05" y1="350.3" x2="317.05" y2="353.3" stroke="#333" stroke-width="0.8"/>
<defs><linearGradient id="g202" x1="0" y1="1" x2="0" y2="0"><stop offset="0.000" stop-color="#f7fbff"/><stop offset="0.125" stop-color="#deebf7"/><stop offset="0.250" stop-color="#c6dbef"/><stop offset="0.375" stop-color="#9ecae1"/><stop offset="0.500" stop-color="#6baed6"/><stop offset="0.625" stop-color="#4292c6"/><stop offset="0.750" stop-color="#2171b5"/><stop offset="0.875" stop-color="#08519c"/><stop offset="1.000" stop-color="#08306b"/></linearGradient></defs>
<rect x="346.6" y="202.5" width="8.00" height="147.80" fill="url(#g202)" stroke="#333" stroke-width="0.8"/>
<line x1="354.6" y1="350.30" x2="357.6" y2="350.30" stroke="#333" stroke-width="0.8"/>
<text x="358.90" y="353.70" font-size="9.18" font-weight="bold" text-anchor="start" fill="#000" textLength="14.53" lengthAdjust="spacingAndGlyphs">0.0</text>
<line x1="354.6" y1="319.83" x2="357.6" y2="319.83" stroke="#333" stroke-width="0.8"/>
<text x="358.90" y="323.23" font-size="9.18" font-weight="bold" text-anchor="start" fill="#000" textLength="14.53" lengthAdjust="spacingAndGlyphs">0.2</text>
<line x1="354.6" y1="289.35" x2="357.6" y2="289.35" stroke="#333" stroke-width="0.8"/>
<text x="358.90" y="292.75" font-size="9.18" font-weight="bold" text-anchor="start" fill="#000" textLength="14.53" lengthAdjust="spacingAndGlyphs">0.4</text>
<line x1="354.6" y1="258.88" x2="357.6" y2="258.88" stroke="#333" stroke-width="0.8"/>
<text x="358.90" y="262.28" font-size="9.18" font-weight="bold" text-anchor="start" fill="#000" textLength="14.53" lengthAdjust="spacingAndGlyphs">0.6</text>
<line x1="354.6" y1="228.40" x2="357.6" y2="228.40" stroke="#333" stroke-width="0.8"/>
<text x="358.90" y="231.80" font-size="9.18" font-weight="bold" text-anchor="start" fill="#000" textLength="14.53" lengthAdjust="spacingAndGlyphs">0.8</text>
<g transform="translate(178.80,222.17) rotate(-45)">
<text x="0.00" y="3.00" font-size="9.63" font-weight="bold" text-anchor="end" fill="#000" textLength="35.55" lengthAdjust="spacingAndGlyphs">Control</text>
</g>
<g transform="translate(178.80,259.12) rotate(-45)">
<text x="0.00" y="3.00" font-size="9.63" font-weight="bold" text-anchor="end" fill="#000" textLength="71.45" lengthAdjust="spacingAndGlyphs">Cytochalasin B</text>
</g>
<g transform="translate(178.80,296.07) rotate(-45)">
<text x="0.00" y="3.00" font-size="9.63" font-weight="bold" text-anchor="end" fill="#000" textLength="58.81" lengthAdjust="spacingAndGlyphs">Blebbistatin</text>
</g>
<g transform="translate(178.80,333.03) rotate(-45)">
<text x="0.00" y="3.00" font-size="9.63" font-weight="bold" text-anchor="end" fill="#000" textLength="45.70" lengthAdjust="spacingAndGlyphs">Y - 27632</text>
</g>
<g transform="translate(205.75,372.60) rotate(-45)">
<text x="0.00" y="3.00" font-size="9.63" font-weight="bold" text-anchor="middle" fill="#000" textLength="35.55" lengthAdjust="spacingAndGlyphs">Control</text>
</g>
<g transform="translate(242.85,385.29) rotate(-45)">
<text x="0.00" y="3.00" font-size="9.63" font-weight="bold" text-anchor="middle" fill="#000" textLength="71.45" lengthAdjust="spacingAndGlyphs">Cytochalasin B</text>
</g>
<g transform="translate(279.95,380.83) rotate(-45)">
<text x="0.00" y="3.00" font-size="9.63" font-weight="bold" text-anchor="middle" fill="#000" textLength="58.81" lengthAdjust="spacingAndGlyphs">Blebbistatin</text>
</g>
<g transform="translate(317.05,376.19) rotate(-45)">
<text x="0.00" y="3.00" font-size="9.63" font-weight="bold" text-anchor="middle" fill="#000" textLength="45.70" lengthAdjust="spacingAndGlyphs">Y - 27632</text>
</g>
<text x="0.00" y="0.00" transform="translate(119.60,276.20) rotate(-90)" font-size="12.71" font-weight="normal" text-anchor="middle" fill="#222" textLength="62.19" lengthAdjust="spacingAndGlyphs">True Label</text>
<text x="261.50" y="425.00" font-size="12.71" font-weight="normal" text-anchor="middle" fill="#222" textLength="93.29" lengthAdjust="spacingAndGlyphs">Predicted Label</text>
<text x="9.40" y="438.20" font-size="19.00" font-weight="bold" text-anchor="start" fill="#000" textLength="14.80" lengthAdjust="spacingAndGlyphs">e.</text>
<rect x="46.6" y="433.4" width="27.7" height="203.1" fill="none" stroke="#8a8a8a" stroke-width="1"/>
<text x="0.00" y="0.00" transform="translate(65.20,534.70) rotate(-90)" font-size="13.00" font-weight="normal" text-anchor="middle" fill="#222" textLength="140.50" lengthAdjust="spacingAndGlyphs">Support Vector Machine</text>
<rect x="185.10" y="452.20" width="38.82" height="37.80" fill="#0f5aa3"/>
<rect x="223.62" y="452.20" width="38.82" height="37.80" fill="#d4e4f4"/>
<rect x="262.15" y="452.20" width="38.82" height="37.80" fill="#f4f9fe"/>
<rect x="300.67" y="452.20" width="38.82" height="37.80" fill="#f3f8fe"/>
<rect x="185.10" y="489.70" width="38.82" height="37.80" fill="#f3f9fe"/>
<rect x="223.62" y="489.70" width="38.82" height="37.80" fill="#08306b"/>
<rect x="262.15" y="489.70" width="38.82" height="37.80" fill="#f3f9fe"/>
<rect x="300.67" y="489.70" width="38.82" height="37.80" fill="#f4f9fe"/>
<rect x="185.10" y="527.20" width="38.82" height="37.80" fill="#f7fbff"/>
<rect x="223.62" y="527.20" width="38.82" height="37.80" fill="#f4f9fe"/>
<rect x="262.15" y="527.20" width="38.82" height="37.80" fill="#1865ac"/>
<rect x="300.67" y="527.20" width="38.82" height="37.80" fill="#c7dcef"/>
<rect x="185.10" y="564.70" width="38.82" height="37.80" fill="#f5fafe"/>
<rect x="223.62" y="564.70" width="38.82" height="37.80" fill="#f2f8fd"/>
<rect x="262.15" y="564.70" width="38.82" height="37.80" fill="#f1f7fd"/>
<rect x="300.67" y="564.70" width="38.82" height="37.80" fill="#08336f"/>
<text x="204.36" y="473.85" font-size="9.90" font-weight="bold" text-anchor="middle" fill="#f7fbff" textLength="22.21" lengthAdjust="spacingAndGlyphs">0.79</text>
<text x="242.89" y="473.85" font-size="9.90" font-weight="bold" text-anchor="middle" fill="#08306b" textLength="22.21" lengthAdjust="spacingAndGlyphs">0.17</text>
<text x="281.41" y="473.85" font-size="9.90" font-weight="bold" text-anchor="middle" fill="#08306b" textLength="28.47" lengthAdjust="spacingAndGlyphs">0.019</text>
<text x="319.94" y="473.85" font-size="9.90" font-weight="bold" text-anchor="middle" fill="#08306b" textLength="28.47" lengthAdjust="spacingAndGlyphs">0.023</text>
<text x="204.36" y="511.35" font-size="9.90" font-weight="bold" text-anchor="middle" fill="#08306b" textLength="22.21" lengthAdjust="spacingAndGlyphs">0.02</text>
<text x="242.89" y="511.35" font-size="9.90" font-weight="bold" text-anchor="middle" fill="#f7fbff" textLength="22.21" lengthAdjust="spacingAndGlyphs">0.94</text>
<text x="281.41" y="511.35" font-size="9.90" font-weight="bold" text-anchor="middle" fill="#08306b" textLength="22.21" lengthAdjust="spacingAndGlyphs">0.02</text>
<text x="319.94" y="511.35" font-size="9.90" font-weight="bold" text-anchor="middle" fill="#08306b" textLength="28.47" lengthAdjust="spacingAndGlyphs">0.016</text>
<text x="204.36" y="548.85" font-size="9.90" font-weight="bold" text-anchor="middle" fill="#08306b" textLength="34.73" lengthAdjust="spacingAndGlyphs">0.0029</text>
<text x="242.89" y="548.85" font-size="9.90" font-weight="bold" text-anchor="middle" fill="#08306b" textLength="28.47" lengthAdjust="spacingAndGlyphs">0.018</text>
<text x="281.41" y="548.85" font-size="9.90" font-weight="bold" text-anchor="middle" fill="#f7fbff" textLength="22.21" lengthAdjust="spacingAndGlyphs">0.75</text>
<text x="319.94" y="548.85" font-size="9.90" font-weight="bold" text-anchor="middle" fill="#08306b" textLength="22.21" lengthAdjust="spacingAndGlyphs">0.23</text>
<text x="204.36" y="586.35" font-size="9.90" font-weight="bold" text-anchor="middle" fill="#08306b" textLength="28.47" lengthAdjust="spacingAndGlyphs">0.013</text>
<text x="242.89" y="586.35" font-size="9.90" font-weight="bold" text-anchor="middle" fill="#08306b" textLength="28.47" lengthAdjust="spacingAndGlyphs">0.028</text>
<text x="281.41" y="586.35" font-size="9.90" font-weight="bold" text-anchor="middle" fill="#08306b" textLength="28.47" lengthAdjust="spacingAndGlyphs">0.031</text>
<text x="319.94" y="586.35" font-size="9.90" font-weight="bold" text-anchor="middle" fill="#f7fbff" textLength="22.21" lengthAdjust="spacingAndGlyphs">0.93</text>
<rect x="185.1" y="452.2" width="154.10" height="150.00" fill="none" stroke="#333" stroke-width="0.9"/>
<line x1="182.1" y1="470.95" x2="185.1" y2="470.95" stroke="#333" stroke-width="0.8"/>
<line x1="204.36" y1="602.2" x2="204.36" y2="605.2" stroke="#333" stroke-width="0.8"/>
<line x1="182.1" y1="508.45" x2="185.1" y2="508.45" stroke="#333" stroke-width="0.8"/>
<line x1="242.89" y1="602.2" x2="242.89" y2="605.2" stroke="#333" stroke-width="0.8"/>
<line x1="182.1" y1="545.95" x2="185.1" y2="545.95" stroke="#333" stroke-width="0.8"/>
<line x1="281.41" y1="602.2" x2="281.41" y2="605.2" stroke="#333" stroke-width="0.8"/>
<line x1="182.1" y1="583.45" x2="185.1" y2="583.45" stroke="#333" stroke-width="0.8"/>
<line x1="319.94" y1="602.2" x2="319.94" y2="605.2" stroke="#333" stroke-width="0.8"/>
<defs><linearGradient id="g452" x1="0" y1="1" x2="0" y2="0"><stop offset="0.000" stop-color="#f7fbff"/><stop offset="0.125" stop-color="#deebf7"/><stop offset="0.250" stop-color="#c6dbef"/><stop offset="0.375" stop-color="#9ecae1"/><stop offset="0.500" stop-color="#6baed6"/><stop offset="0.625" stop-color="#4292c6"/><stop offset="0.750" stop-color="#2171b5"/><stop offset="0.875" stop-color="#08519c"/><stop offset="1.000" stop-color="#08306b"/></linearGradient></defs>
<rect x="350.8" y="452.2" width="8.70" height="150.00" fill="url(#g452)" stroke="#333" stroke-width="0.8"/>
<line x1="359.5" y1="570.65" x2="362.5" y2="570.65" stroke="#333" stroke-width="0.8"/>
<text x="363.80" y="574.05" font-size="9.18" font-weight="bold" text-anchor="start" fill="#000" textLength="14.53" lengthAdjust="spacingAndGlyphs">0.2</text>
<line x1="359.5" y1="538.64" x2="362.5" y2="538.64" stroke="#333" stroke-width="0.8"/>
<text x="363.80" y="542.04" font-size="9.18" font-weight="bold" text-anchor="start" fill="#000" textLength="14.53" lengthAdjust="spacingAndGlyphs">0.4</text>
<line x1="359.5" y1="506.62" x2="362.5" y2="506.62" stroke="#333" stroke-width="0.8"/>
<text x="363.80" y="510.02" font-size="9.18" font-weight="bold" text-anchor="start" fill="#000" textLength="14.53" lengthAdjust="spacingAndGlyphs">0.6</text>
<line x1="359.5" y1="474.61" x2="362.5" y2="474.61" stroke="#333" stroke-width="0.8"/>
<text x="363.80" y="478.01" font-size="9.18" font-weight="bold" text-anchor="start" fill="#000" textLength="14.53" lengthAdjust="spacingAndGlyphs">0.8</text>
<g transform="translate(176.70,472.15) rotate(-45)">
<text x="0.00" y="3.00" font-size="9.63" font-weight="bold" text-anchor="end" fill="#000" textLength="35.55" lengthAdjust="spacingAndGlyphs">Control</text>
</g>
<g transform="translate(176.70,509.65) rotate(-45)">
<text x="0.00" y="3.00" font-size="9.63" font-weight="bold" text-anchor="end" fill="#000" textLength="71.45" lengthAdjust="spacingAndGlyphs">Cytochalasin B</text>
</g>
<g transform="translate(176.70,547.15) rotate(-45)">
<text x="0.00" y="3.00" font-size="9.63" font-weight="bold" text-anchor="end" fill="#000" textLength="58.81" lengthAdjust="spacingAndGlyphs">Blebbistatin</text>
</g>
<g transform="translate(176.70,584.65) rotate(-45)">
<text x="0.00" y="3.00" font-size="9.63" font-weight="bold" text-anchor="end" fill="#000" textLength="45.70" lengthAdjust="spacingAndGlyphs">Y - 27632</text>
</g>
<g transform="translate(204.36,624.50) rotate(-45)">
<text x="0.00" y="3.00" font-size="9.63" font-weight="bold" text-anchor="middle" fill="#000" textLength="35.55" lengthAdjust="spacingAndGlyphs">Control</text>
</g>
<g transform="translate(242.89,637.19) rotate(-45)">
<text x="0.00" y="3.00" font-size="9.63" font-weight="bold" text-anchor="middle" fill="#000" textLength="71.45" lengthAdjust="spacingAndGlyphs">Cytochalasin B</text>
</g>
<g transform="translate(281.41,632.73) rotate(-45)">
<text x="0.00" y="3.00" font-size="9.63" font-weight="bold" text-anchor="middle" fill="#000" textLength="58.81" lengthAdjust="spacingAndGlyphs">Blebbistatin</text>
</g>
<g transform="translate(319.94,628.09) rotate(-45)">
<text x="0.00" y="3.00" font-size="9.63" font-weight="bold" text-anchor="middle" fill="#000" textLength="45.70" lengthAdjust="spacingAndGlyphs">Y - 27632</text>
</g>
<text x="0.00" y="0.00" transform="translate(114.60,528.20) rotate(-90)" font-size="12.71" font-weight="normal" text-anchor="middle" fill="#222" textLength="62.19" lengthAdjust="spacingAndGlyphs">True Label</text>
<text x="262.00" y="679.20" font-size="13.23" font-weight="normal" text-anchor="middle" fill="#222" textLength="97.15" lengthAdjust="spacingAndGlyphs">Predicted Label</text>
<line x1="481.60" y1="213.60" x2="481.60" y2="356.20" stroke="#eef2f8" stroke-width="1"/>
<line x1="452.80" y1="327.68" x2="596.80" y2="327.68" stroke="#eef2f8" stroke-width="1"/>
<line x1="510.40" y1="213.60" x2="510.40" y2="356.20" stroke="#eef2f8" stroke-width="1"/>
<line x1="452.80" y1="299.16" x2="596.80" y2="299.16" stroke="#eef2f8" stroke-width="1"/>
<line x1="539.20" y1="213.60" x2="539.20" y2="356.20" stroke="#eef2f8" stroke-width="1"/>
<line x1="452.80" y1="270.64" x2="596.80" y2="270.64" stroke="#eef2f8" stroke-width="1"/>
<line x1="568.00" y1="213.60" x2="568.00" y2="356.20" stroke="#eef2f8" stroke-width="1"/>
<line x1="452.80" y1="242.12" x2="596.80" y2="242.12" stroke="#eef2f8" stroke-width="1"/>
<line x1="596.80" y1="213.60" x2="596.80" y2="356.20" stroke="#eef2f8" stroke-width="1"/>
<line x1="452.80" y1="213.60" x2="596.80" y2="213.60" stroke="#eef2f8" stroke-width="1"/>
<polygon points="452.80,356.20 452.80,350.50 453.38,339.09 455.39,306.29 459.42,273.49 463.89,240.69 468.64,213.60 596.80,213.60 596.80,213.60 506.66,213.60 500.18,215.45 492.54,225.15 487.07,238.27 482.75,253.53 479.44,270.93 476.27,292.60 471.95,312.14 467.63,325.26 462.16,338.23 456.69,343.65 452.80,356.20" fill="#cde3f4" stroke="none"/>
<line x1="452.80" y1="356.20" x2="596.80" y2="213.60" stroke="#666" stroke-width="0.8" stroke-dasharray="1.1,1.5"/>
<polyline points="452.80,356.20 453.09,349.07 453.38,331.96 455.68,320.55 457.55,320.55 458.85,310.00 460.58,309.14 462.16,297.02 465.04,281.76 468.64,279.62 469.79,277.77 471.95,264.22 473.68,246.97 475.26,237.13 477.28,224.15 478.43,223.58 480.59,214.31 485.92,213.60 596.80,213.60" fill="none" stroke="#6ea2d0" stroke-width="0.9"/>
<line x1="452.80" y1="211.6" x2="452.80" y2="358.80" stroke="#d0d4da" stroke-width="1"/>
<line x1="452.80" y1="358.80" x2="596.80" y2="358.80" stroke="#d8dce2" stroke-width="1"/>
<text x="448.30" y="360.50" font-size="12.50" font-weight="normal" text-anchor="end" fill="#2a3f5f">0</text>
<text x="452.80" y="373.50" font-size="12.50" font-weight="normal" text-anchor="middle" fill="#2a3f5f">0</text>
<text x="448.30" y="331.98" font-size="12.50" font-weight="normal" text-anchor="end" fill="#2a3f5f">0.2</text>
<text x="481.60" y="373.50" font-size="12.50" font-weight="normal" text-anchor="middle" fill="#2a3f5f">0.2</text>
<text x="448.30" y="303.46" font-size="12.50" font-weight="normal" text-anchor="end" fill="#2a3f5f">0.4</text>
<text x="510.40" y="373.50" font-size="12.50" font-weight="normal" text-anchor="middle" fill="#2a3f5f">0.4</text>
<text x="448.30" y="274.94" font-size="12.50" font-weight="normal" text-anchor="end" fill="#2a3f5f">0.6</text>
<text x="539.20" y="373.50" font-size="12.50" font-weight="normal" text-anchor="middle" fill="#2a3f5f">0.6</text>
<text x="448.30" y="246.42" font-size="12.50" font-weight="normal" text-anchor="end" fill="#2a3f5f">0.8</text>
<text x="568.00" y="373.50" font-size="12.50" font-weight="normal" text-anchor="middle" fill="#2a3f5f">0.8</text>
<text x="448.30" y="217.90" font-size="12.50" font-weight="normal" text-anchor="end" fill="#2a3f5f">1</text>
<text x="596.80" y="373.50" font-size="12.50" font-weight="normal" text-anchor="middle" fill="#2a3f5f">1</text>
<line x1="462.5" y1="351.00" x2="467.5" y2="351.00" stroke="#a9cde8" stroke-width="1.2"/>
<text x="470.50" y="354.50" font-size="10.20" font-weight="normal" text-anchor="start" fill="#3c4f6b" textLength="117.40" lengthAdjust="spacingAndGlyphs">: 0.910 [0.850 - 0.970]</text>
<text x="0.00" y="0.00" transform="translate(424.00,285.00) rotate(-90)" font-size="15.50" font-weight="normal" text-anchor="middle" fill="#2a3f5f" textLength="72.00" lengthAdjust="spacingAndGlyphs">Sensitivity</text>
<text x="525.20" y="389.60" font-size="15.50" font-weight="normal" text-anchor="middle" fill="#2a3f5f" textLength="85.50" lengthAdjust="spacingAndGlyphs">1-Specificity</text>
<line x1="480.00" y1="447.50" x2="480.00" y2="597.30" stroke="#eef2f8" stroke-width="1"/>
<line x1="449.70" y1="567.34" x2="601.20" y2="567.34" stroke="#eef2f8" stroke-width="1"/>
<line x1="510.30" y1="447.50" x2="510.30" y2="597.30" stroke="#eef2f8" stroke-width="1"/>
<line x1="449.70" y1="537.38" x2="601.20" y2="537.38" stroke="#eef2f8" stroke-width="1"/>
<line x1="540.60" y1="447.50" x2="540.60" y2="597.30" stroke="#eef2f8" stroke-width="1"/>
<line x1="449.70" y1="507.42" x2="601.20" y2="507.42" stroke="#eef2f8" stroke-width="1"/>
<line x1="570.90" y1="447.50" x2="570.90" y2="597.30" stroke="#eef2f8" stroke-width="1"/>
<line x1="449.70" y1="477.46" x2="601.20" y2="477.46" stroke="#eef2f8" stroke-width="1"/>
<line x1="601.20" y1="447.50" x2="601.20" y2="597.30" stroke="#eef2f8" stroke-width="1"/>
<line x1="449.70" y1="447.50" x2="601.20" y2="447.50" stroke="#eef2f8" stroke-width="1"/>
<polygon points="449.70,597.30 450.61,582.32 451.67,540.38 451.67,510.42 455.00,502.93 458.79,492.44 461.82,479.41 465.46,457.54 469.09,447.50 601.20,447.50 601.20,447.50 527.57,447.50 510.00,448.85 501.21,451.69 495.45,460.38 489.54,470.72 483.79,489.59 480.76,497.98 477.58,513.86 474.39,534.53 473.49,539.93 470.46,548.91 465.61,554.46 460.00,555.36 454.40,569.59 450.61,595.05 449.70,597.30" fill="#cde3f4" stroke="none"/>
<line x1="449.70" y1="597.30" x2="601.20" y2="447.50" stroke="#666" stroke-width="0.8" stroke-dasharray="1.1,1.5"/>
<polyline points="449.70,597.30 450.76,575.58 452.12,542.47 453.64,541.87 455.15,529.89 457.58,526.89 459.24,525.85 465.61,524.80 466.37,522.40 468.79,512.36 471.21,490.04 471.97,485.25 473.49,484.65 475.76,464.13 477.27,463.38 478.64,450.95 482.27,449.60 491.67,449.60 494.70,448.10 510.00,447.50 601.20,447.50" fill="none" stroke="#6ea2d0" stroke-width="0.9"/>
<line x1="449.70" y1="445.5" x2="449.70" y2="599.90" stroke="#d0d4da" stroke-width="1"/>
<line x1="449.70" y1="599.90" x2="601.20" y2="599.90" stroke="#d8dce2" stroke-width="1"/>
<text x="445.20" y="602.20" font-size="12.50" font-weight="normal" text-anchor="end" fill="#2a3f5f">0</text>
<text x="449.70" y="616.10" font-size="12.50" font-weight="normal" text-anchor="middle" fill="#2a3f5f">0</text>
<text x="445.20" y="572.24" font-size="12.50" font-weight="normal" text-anchor="end" fill="#2a3f5f">0.2</text>
<text x="480.00" y="616.10" font-size="12.50" font-weight="normal" text-anchor="middle" fill="#2a3f5f">0.2</text>
<text x="445.20" y="542.28" font-size="12.50" font-weight="normal" text-anchor="end" fill="#2a3f5f">0.4</text>
<text x="510.30" y="616.10" font-size="12.50" font-weight="normal" text-anchor="middle" fill="#2a3f5f">0.4</text>
<text x="445.20" y="512.32" font-size="12.50" font-weight="normal" text-anchor="end" fill="#2a3f5f">0.6</text>
<text x="540.60" y="616.10" font-size="12.50" font-weight="normal" text-anchor="middle" fill="#2a3f5f">0.6</text>
<text x="445.20" y="482.36" font-size="12.50" font-weight="normal" text-anchor="end" fill="#2a3f5f">0.8</text>
<text x="570.90" y="616.10" font-size="12.50" font-weight="normal" text-anchor="middle" fill="#2a3f5f">0.8</text>
<text x="445.20" y="452.40" font-size="12.50" font-weight="normal" text-anchor="end" fill="#2a3f5f">1</text>
<text x="601.20" y="616.10" font-size="12.50" font-weight="normal" text-anchor="middle" fill="#2a3f5f">1</text>
<line x1="459.0" y1="593.50" x2="464.0" y2="593.50" stroke="#a9cde8" stroke-width="1.2"/>
<text x="467.00" y="597.00" font-size="10.20" font-weight="normal" text-anchor="start" fill="#3c4f6b" textLength="125.20" lengthAdjust="spacingAndGlyphs">: 0.911 [0.854 - 0.967]</text>
<text x="0.00" y="0.00" transform="translate(418.30,522.30) rotate(-90)" font-size="15.50" font-weight="normal" text-anchor="middle" fill="#2a3f5f" textLength="75.50" lengthAdjust="spacingAndGlyphs">Sensitivity</text>
<text x="525.20" y="634.30" font-size="15.50" font-weight="normal" text-anchor="middle" fill="#2a3f5f" textLength="90.00" lengthAdjust="spacingAndGlyphs">1-Specificity</text>
</svg></body></html>
